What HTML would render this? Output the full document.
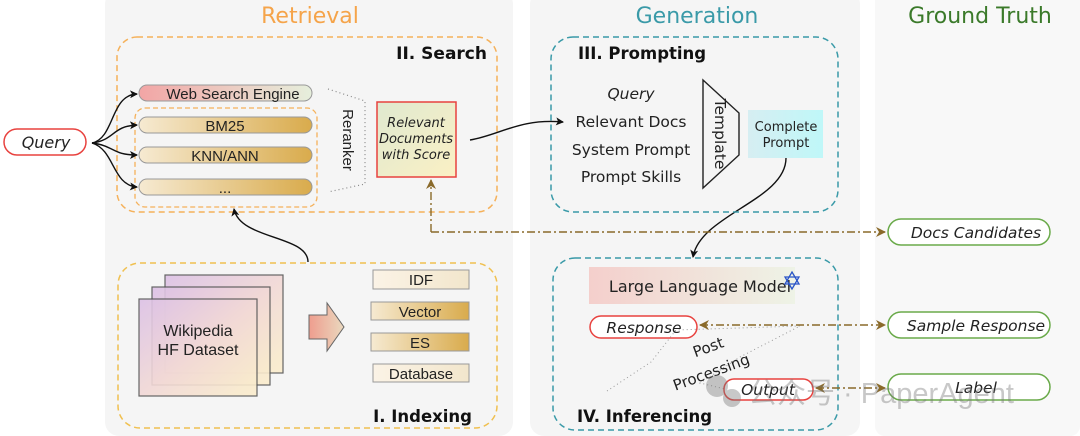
<!DOCTYPE html>
<html><head><meta charset="utf-8"><style>
html,body{margin:0;padding:0;background:#fff;}
svg{display:block;}
.d{font-family:"DejaVu Sans","Liberation Sans",sans-serif;}
.l{font-family:"Liberation Sans",Arial,sans-serif;}
</style></head><body>
<svg width="1080" height="436" viewBox="0 0 1080 436" xmlns="http://www.w3.org/2000/svg">
<defs>
<linearGradient id="wse" x1="0" x2="1"><stop offset="0" stop-color="#f2a5a5"/><stop offset="1" stop-color="#e6efdc"/></linearGradient>
<linearGradient id="gold" x1="0" x2="1"><stop offset="0" stop-color="#f6ead2"/><stop offset="1" stop-color="#d9ab4c"/></linearGradient>
<linearGradient id="light" x1="0" x2="1"><stop offset="0" stop-color="#fbf3e6"/><stop offset="1" stop-color="#f2e6cc"/></linearGradient>
<linearGradient id="rel" x1="0" y1="0" x2="1" y2="1"><stop offset="0" stop-color="#dfe9d0"/><stop offset="1" stop-color="#fbf0c4"/></linearGradient>
<linearGradient id="cp" x1="0" x2="1"><stop offset="0" stop-color="#d6eef2"/><stop offset="1" stop-color="#bff7f8"/></linearGradient>
<linearGradient id="llm" x1="0" x2="1"><stop offset="0" stop-color="#f4cfcc"/><stop offset="1" stop-color="#eef3e6"/></linearGradient>
<linearGradient id="page" x1="0" y1="0" x2="1" y2="1"><stop offset="0" stop-color="#dcc1e6"/><stop offset="0.5" stop-color="#f1d8d6"/><stop offset="1" stop-color="#fbeecb"/></linearGradient>
<linearGradient id="blk" x1="0" x2="1"><stop offset="0" stop-color="#ee9d8e"/><stop offset="1" stop-color="#ead9bf"/></linearGradient>
<marker id="ak" markerWidth="8" markerHeight="8" refX="7" refY="4" orient="auto" markerUnits="userSpaceOnUse"><path d="M0,0 L8,4 L0,8 L2,4 z" fill="#111"/></marker>
<marker id="ab" markerWidth="10" markerHeight="10" refX="9" refY="5" orient="auto-start-reverse" markerUnits="userSpaceOnUse"><path d="M0,0 L10,5 L0,10 L3,5 z" fill="#8a6a2a"/></marker>
</defs>
<rect x="0" y="0" width="1080" height="436" fill="#fff"/>
<rect x="105" y="-10" width="408" height="446" rx="14" fill="#f5f5f5"/>
<rect x="530" y="-10" width="330" height="446" rx="14" fill="#f5f5f5"/>
<rect x="875" y="-10" width="205" height="446" rx="10" fill="#f8f8f8"/>

<text class="d" x="310" y="23" font-size="22" fill="#f5a44a" text-anchor="middle">Retrieval</text>
<text class="d" x="697" y="23" font-size="22" fill="#3a9aa8" text-anchor="middle">Generation</text>
<text class="d" x="980" y="23" font-size="22" fill="#3b7a2a" text-anchor="middle">Ground Truth</text>

<!-- Search -->
<rect x="117" y="37" width="380" height="175" rx="20" fill="none" stroke="#f5b15a" stroke-width="1.5" stroke-dasharray="6,4"/>
<text class="d" x="487" y="59" font-size="17" font-weight="bold" text-anchor="end" fill="#111">II. Search</text>
<rect x="139" y="85" width="173" height="16" rx="8" fill="url(#wse)" stroke="#999"/>
<text class="l" x="233" y="99" font-size="15" text-anchor="middle" fill="#222">Web Search Engine</text>
<rect x="135" y="108" width="182" height="99" rx="10" fill="none" stroke="#f5b15a" stroke-width="1.3" stroke-dasharray="5,3"/>
<rect x="139" y="117" width="173" height="16" rx="8" fill="url(#gold)" stroke="#999"/>
<text class="l" x="225" y="131" font-size="15" text-anchor="middle" fill="#222">BM25</text>
<rect x="139" y="147" width="173" height="16" rx="8" fill="url(#gold)" stroke="#999"/>
<text class="l" x="225" y="161" font-size="15" text-anchor="middle" fill="#222">KNN/ANN</text>
<rect x="139" y="179" width="173" height="16" rx="8" fill="url(#gold)" stroke="#999"/>
<text class="l" x="225" y="193" font-size="15" text-anchor="middle" fill="#222">...</text>
<path d="M328,89 L365,101 L365,184 L328,192" fill="none" stroke="#888" stroke-width="1.2" stroke-dasharray="1,3"/>
<text class="l" transform="translate(343,140) rotate(90)" font-size="15" text-anchor="middle" fill="#222">Reranker</text>
<rect x="377" y="102" width="79" height="75" fill="url(#rel)" stroke="#e8423f" stroke-width="1.5"/>
<text class="d" x="416" y="127" font-size="13" text-anchor="middle" font-style="italic" fill="#222">Relevant</text>
<text class="d" x="416" y="143" font-size="13" text-anchor="middle" font-style="italic" fill="#222">Documents</text>
<text class="d" x="416" y="159" font-size="13" text-anchor="middle" font-style="italic" fill="#222">with Score</text>

<!-- Query -->
<rect x="4" y="129" width="82" height="26" rx="13" fill="#fff" stroke="#e8423f" stroke-width="1.5"/>
<text class="d" x="46" y="148" font-size="16" font-style="italic" text-anchor="middle" fill="#222">Query</text>
<g fill="none" stroke="#111" stroke-width="1.4" marker-end="url(#ak)">
<path d="M92,143 C115,138 110,95 137,94"/>
<path d="M92,143 C115,140 112,126 137,125"/>
<path d="M92,143 C115,146 112,155 137,155"/>
<path d="M92,143 C115,150 112,185 137,187"/>
<path d="M470,140 C500,135 520,118 563,122"/>
<path d="M786,158 C786,200 700,215 693,257"/>
<path d="M308,262 C308,235 240,240 234,209"/>
</g>

<!-- Prompting -->
<rect x="551" y="37" width="287" height="175" rx="22" fill="none" stroke="#3a9aa8" stroke-width="1.5" stroke-dasharray="6,4"/>
<text class="d" x="578" y="59" font-size="16.5" font-weight="bold" fill="#111">III. Prompting</text>
<text class="d" x="631" y="99" font-size="15.5" font-style="italic" text-anchor="middle" fill="#222">Query</text>
<text class="d" x="631" y="127" font-size="15.5" text-anchor="middle" fill="#222">Relevant Docs</text>
<text class="d" x="631" y="155" font-size="15.5" text-anchor="middle" fill="#222">System Prompt</text>
<text class="d" x="631" y="182" font-size="15.5" text-anchor="middle" fill="#222">Prompt Skills</text>
<path d="M703,80 L739,113 L739,155 L703,188 z" fill="none" stroke="#222" stroke-width="1.4"/>
<text class="d" transform="translate(715,134) rotate(90)" font-size="15.5" text-anchor="middle" fill="#222">Template</text>
<rect x="748" y="110" width="75" height="48" fill="url(#cp)"/>
<text class="d" x="786" y="131" font-size="13" text-anchor="middle" fill="#222">Complete</text>
<text class="d" x="786" y="147" font-size="13" text-anchor="middle" fill="#222">Prompt</text>

<!-- Inferencing -->
<rect x="553" y="258" width="285" height="172" rx="22" fill="none" stroke="#3a9aa8" stroke-width="1.5" stroke-dasharray="6,4"/>
<rect x="589" y="267" width="206" height="37" fill="url(#llm)"/>
<text class="d" x="700" y="292" font-size="16" text-anchor="middle" fill="#222">Large Language Model</text>
<g fill="none" stroke="#2a55c8" stroke-width="1.3"><path d="M792,272 L799,284 L785,284 z"/><path d="M792,289 L785,277 L799,277 z"/></g>
<rect x="590" y="316" width="107" height="22" rx="11" fill="#fff" stroke="#e8423f" stroke-width="1.5"/>
<text class="d" x="644" y="333" font-size="15.5" font-style="italic" text-anchor="middle" fill="#222">Response</text>
<path d="M607,391 L651,362 L655,357 L676,330 L800,326 L740,357 L700,383 L725,389" fill="none" stroke="#999" stroke-width="1" stroke-dasharray="1,3"/>
<text class="d" transform="translate(710,352) rotate(-20)" font-size="15" text-anchor="middle" fill="#222">Post</text>
<text class="d" transform="translate(713,377) rotate(-20)" font-size="15" text-anchor="middle" fill="#222">Processing</text>
<rect x="724" y="379" width="89" height="21" rx="10" fill="#fff" stroke="#e8423f" stroke-width="1.5"/>
<text class="d" x="768" y="395" font-size="15.5" font-style="italic" text-anchor="middle" fill="#222">Output</text>
<text class="d" x="577" y="422" font-size="16.5" font-weight="bold" fill="#111">IV. Inferencing</text>

<!-- Indexing -->
<rect x="118" y="263" width="379" height="165" rx="22" fill="none" stroke="#f0c050" stroke-width="1.5" stroke-dasharray="6,4"/>
<text class="d" x="472" y="422" font-size="16.5" font-weight="bold" text-anchor="end" fill="#111">I. Indexing</text>
<rect x="165" y="275" width="118" height="98" fill="url(#page)" stroke="#555" stroke-width="1.2" opacity="0.9"/>
<rect x="152" y="287" width="118" height="98" fill="url(#page)" stroke="#555" stroke-width="1.2" opacity="0.9"/>
<rect x="139" y="299" width="118" height="97" fill="url(#page)" stroke="#555" stroke-width="1.2" opacity="0.9"/>
<text class="l" x="198" y="336" font-size="16" text-anchor="middle" fill="#222">Wikipedia</text>
<text class="l" x="198" y="355" font-size="16" text-anchor="middle" fill="#222">HF Dataset</text>
<path d="M309,315 L327,315 L327,303 L344,327 L327,351 L327,339 L309,339 z" fill="url(#blk)" stroke="#666"/>
<rect x="373" y="270" width="96" height="19" fill="url(#light)" stroke="#999"/>
<text class="l" x="421" y="285" font-size="15" text-anchor="middle" fill="#222">IDF</text>
<rect x="371" y="302" width="98" height="18" fill="url(#gold)" stroke="#999"/>
<text class="l" x="420" y="317" font-size="15" text-anchor="middle" fill="#222">Vector</text>
<rect x="371" y="333" width="98" height="18" fill="url(#gold)" stroke="#999"/>
<text class="l" x="420" y="348" font-size="15" text-anchor="middle" fill="#222">ES</text>
<rect x="373" y="364" width="96" height="18" fill="url(#light)" stroke="#999"/>
<text class="l" x="421" y="379" font-size="15" text-anchor="middle" fill="#222">Database</text>

<!-- Ground truth -->
<rect x="888" y="219" width="162" height="26" rx="13" fill="#fff" stroke="#6aaa4a" stroke-width="1.5"/>
<text class="d" x="976" y="238" font-size="15.5" font-style="italic" text-anchor="middle" fill="#222">Docs Candidates</text>
<rect x="888" y="312" width="162" height="26" rx="13" fill="#fff" stroke="#6aaa4a" stroke-width="1.5"/>
<text class="d" x="976" y="331" font-size="15.5" font-style="italic" text-anchor="middle" fill="#222">Sample Response</text>
<rect x="888" y="374" width="162" height="26" rx="13" fill="#fff" stroke="#6aaa4a" stroke-width="1.5"/>
<text class="d" x="976" y="393" font-size="15.5" font-style="italic" text-anchor="middle" fill="#222">Label</text>

<!-- brown dash-dot -->
<g fill="none" stroke="#8a6a2a" stroke-width="1.4" stroke-dasharray="8,3,2,3">
<path d="M431,232 L431,180" marker-end="url(#ab)"/>
<path d="M431,232 L885,232" marker-end="url(#ab)"/>
<path d="M700,325 L885,325" marker-start="url(#ab)" marker-end="url(#ab)"/>
<path d="M816,388 L885,388" marker-start="url(#ab)" marker-end="url(#ab)"/>
</g>

<!-- watermark -->
<g opacity="0.4">
<circle cx="717" cy="386" r="11" fill="#777"/><circle cx="732" cy="398" r="9" fill="#777"/>
<text x="748" y="403" font-size="29" fill="#777" style="font-family:'Liberation Sans','Noto Sans CJK SC',sans-serif">公众号 · PaperAgent</text>
</g>
</svg>
</body></html>
